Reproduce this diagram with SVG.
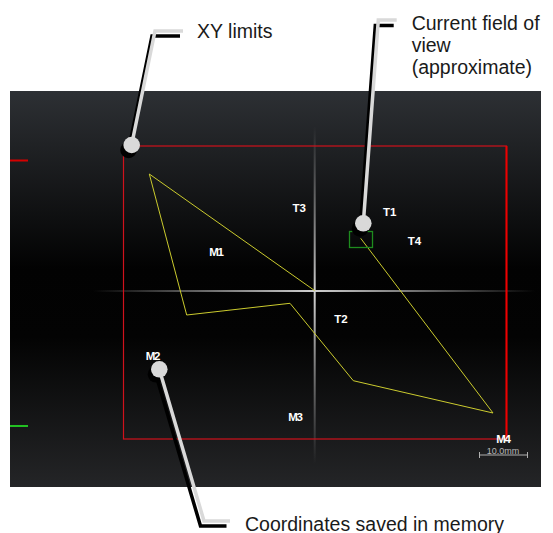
<svg xmlns="http://www.w3.org/2000/svg" width="553" height="533" viewBox="0 0 553 533">
  <defs>
    <linearGradient id="panelGrad" x1="0" y1="0" x2="0" y2="1">
      <stop offset="0" stop-color="#2d3034"/>
      <stop offset="0.45" stop-color="#020202"/>
      <stop offset="0.62" stop-color="#030303"/>
      <stop offset="1" stop-color="#242527"/>
    </linearGradient>
    <linearGradient id="hGrad" x1="93" y1="0" x2="535" y2="0" gradientUnits="userSpaceOnUse">
      <stop offset="0" stop-color="#cccccc" stop-opacity="0"/>
      <stop offset="0.5" stop-color="#d0d0d0" stop-opacity="1"/>
      <stop offset="1" stop-color="#cccccc" stop-opacity="0"/>
    </linearGradient>
    <linearGradient id="vGrad" x1="0" y1="126" x2="0" y2="464" gradientUnits="userSpaceOnUse">
      <stop offset="0" stop-color="#cccccc" stop-opacity="0"/>
      <stop offset="0.5" stop-color="#d0d0d0" stop-opacity="1"/>
      <stop offset="1" stop-color="#cccccc" stop-opacity="0"/>
    </linearGradient>
  </defs>
  <style>
    .lbl { font-family: "Liberation Sans", Arial, sans-serif; font-weight: bold; font-size: 11.5px; fill: #ffffff; text-anchor: middle; }
    .mlbl { letter-spacing: -1.2px; }
    .cap { font-family: "Liberation Sans", Arial, sans-serif; font-size: 19.5px; fill: #1a1a1a; }
    .shadowLine { fill: none; stroke: #000000; stroke-width: 3.5; stroke-linejoin: miter; }
    .grayLine { fill: none; stroke: #d9d9d9; stroke-width: 3.5; stroke-linejoin: miter; }
    .dot { fill: #d9d9d9; }
    .dotShadow { fill: #000000; }
    .path { fill: none; stroke: #cbcb2e; stroke-width: 1; }
  </style>

  <!-- screen panel -->
  <g id="screen">
    <rect x="10" y="91" width="531" height="396" fill="url(#panelGrad)"/>
    <line x1="10" y1="160.5" x2="28" y2="160.5" stroke="#d40000" stroke-width="2"/>
    <line x1="10" y1="426" x2="28" y2="426" stroke="#22c022" stroke-width="2"/>
    <line x1="93" y1="291" x2="535" y2="291" stroke="url(#hGrad)" stroke-width="2"/>
    <line x1="314.7" y1="126" x2="314.7" y2="464" stroke="url(#vGrad)" stroke-width="2"/>
    <rect id="xy-limits" x="123.5" y="146" width="383" height="293" fill="none" stroke="#d0121c" stroke-width="1.2"/>
    <line x1="506.5" y1="146" x2="506.5" y2="439.5" stroke="#ee0000" stroke-width="2"/>
    <polyline class="path" points="314.5,290.5 149.3,174 186.7,315 290,303.3 353.3,380.7 493,413 360.7,238.3"/>
    <rect id="fov" x="349.5" y="231.5" width="23" height="16" fill="none" stroke="#1e8c1e" stroke-width="1.3"/>
  </g>

  <g id="labels">
    <text class="lbl mlbl" x="216" y="256">M1</text>
    <text class="lbl mlbl" x="152.5" y="360">M2</text>
    <text class="lbl mlbl" x="295" y="421">M3</text>
    <text class="lbl mlbl" x="503" y="443">M4</text>
    <text class="lbl" x="299.3" y="211.7">T3</text>
    <text class="lbl" x="389.7" y="216">T1</text>
    <text class="lbl" x="414.5" y="245">T4</text>
    <text class="lbl" x="341" y="323.3">T2</text>
  </g>

  <g id="scale-bar" stroke="#b0b0b0" stroke-width="1">
    <line x1="479.5" y1="455" x2="527.5" y2="455"/>
    <line x1="479.5" y1="452" x2="479.5" y2="458"/>
    <line x1="527.5" y1="452" x2="527.5" y2="458"/>
    <text x="503" y="454" font-family="Liberation Sans, Arial, sans-serif" font-size="9" fill="#b8b8b8" stroke="none" text-anchor="middle">10.0mm</text>
  </g>

  <!-- callouts -->
  <g id="connectors">
    <g id="conn-xy">
      <polyline class="shadowLine" points="128.7,149.5 152,36 180,36"/>
      <circle class="dotShadow" cx="128.5" cy="150" r="8.3"/>
      <polyline class="grayLine" points="131.7,144.5 155,31 183,31"/>
      <circle class="dot" cx="131.7" cy="145" r="8.3"/>
    </g>
    <g id="conn-fov">
      <polyline class="shadowLine" points="360.3,228.3 375.3,25.5 393.7,25.5"/>
      <circle class="dotShadow" cx="360" cy="228.5" r="8.3"/>
      <polyline class="grayLine" points="363.3,223.3 378.3,20 396.7,20"/>
      <circle class="dot" cx="363.3" cy="223.3" r="8.3"/>
    </g>
    <g id="conn-mem">
      <polyline class="shadowLine" points="155.8,374.3 200.5,526 226.5,526"/>
      <circle class="dotShadow" cx="156" cy="374.3" r="8.3"/>
      <polyline class="grayLine" points="159.3,369.3 204,521 230,521"/>
      <circle class="dot" cx="159.3" cy="369.3" r="8.3"/>
    </g>
  </g>

  <g id="caption-xy">
    <text class="cap" x="197" y="38.3">XY limits</text>
  </g>
  <g id="caption-fov">
    <text class="cap" x="411.7" y="29.5">Current field of</text>
    <text class="cap" x="411.7" y="51.5">view</text>
    <text class="cap" x="411.7" y="73.5">(approximate)</text>
  </g>
  <g id="caption-mem">
    <text class="cap" x="245" y="530.5">Coordinates saved in memory</text>
  </g>
</svg>
